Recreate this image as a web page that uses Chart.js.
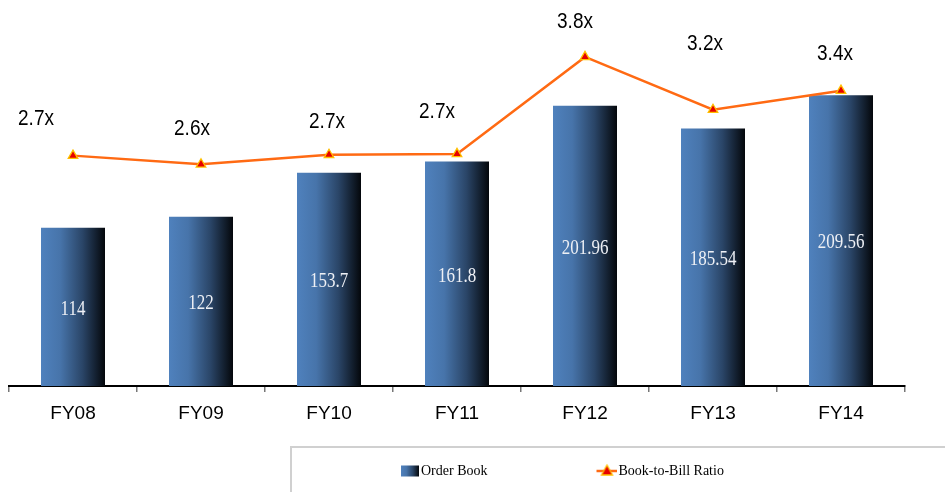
<!DOCTYPE html>
<html>
<head>
<meta charset="utf-8">
<script src="https://cdn.jsdelivr.net/npm/chart.js@4.4.1/dist/chart.umd.min.js"></script>
<style>
  html, body { margin: 0; padding: 0; background: #fff; }
</style>
</head>
<body>
<canvas id="chart" width="945" height="492"></canvas>
<script>
const years = ["FY08", "FY09", "FY10", "FY11", "FY12", "FY13", "FY14"];
const orderBook = [114, 122, 153.7, 161.8, 201.96, 185.54, 209.56];
const bookToBill = [2.66, 2.56, 2.67, 2.68, 3.80, 3.19, 3.41];

// where each "x.x" label sits relative to its point (hand placed in the source)
const ratioLabelOffsets = [[-37, -39], [-9, -37], [-2, -35], [-20, -44], [-10, -37], [-8, -68], [-6, -39]];

function fillBarGradient(g) {
  g.addColorStop(0, "#4f81bd");
  g.addColorStop(0.3, "#4774aa");
  g.addColorStop(0.65, "#2a4567");
  g.addColorStop(1, "#04070b");
  return g;
}

function barFill(ctx) {
  const chart = ctx.chart;
  const xs = chart.scales.x;
  if (!chart.chartArea || !xs || ctx.type !== "data") return "#4f81bd";
  const cx = xs.getPixelForValue(ctx.dataIndex);
  const half = xs.width / years.length / 4;
  return fillBarGradient(chart.ctx.createLinearGradient(cx - half, 0, cx + half, 0));
}

// legend markers, drawn at the right end of a wide transparent box
function barSwatch() {
  const cv = document.createElement("canvas");
  cv.width = 126; cv.height = 16;
  const c = cv.getContext("2d");
  c.fillStyle = fillBarGradient(c.createLinearGradient(107, 0, 125, 0));
  c.fillRect(107, 2.5, 18, 11);
  return cv;
}

function lineSwatch() {
  const cv = document.createElement("canvas");
  cv.width = 126; cv.height = 16;
  const c = cv.getContext("2d");
  c.strokeStyle = "#ff6a13";
  c.lineWidth = 2.5;
  c.beginPath(); c.moveTo(105, 8); c.lineTo(126, 8); c.stroke();
  c.beginPath(); c.moveTo(115.5, 2); c.lineTo(121, 12); c.lineTo(110, 12); c.closePath();
  c.fillStyle = "#e60000"; c.fill();
  c.strokeStyle = "#ffc000"; c.lineWidth = 1.3; c.stroke();
  return cv;
}

const labelPlugin = {
  id: "valueLabels",
  afterDatasetsDraw(chart) {
    const c = chart.ctx;
    c.save();
    c.textAlign = "center";
    c.textBaseline = "alphabetic";

    c.fillStyle = "#eef0f5";
    c.font = '17px "Liberation Serif"';
    chart.getDatasetMeta(0).data.forEach((bar, i) => {
      c.save();
      c.translate(bar.x, (bar.y + bar.base) / 2 + 1);
      c.scale(1, 1.22);
      c.fillText(String(orderBook[i]), 0, 0.33 * 17);
      c.restore();
    });

    c.fillStyle = "#000";
    c.font = '19px "Liberation Sans"';
    chart.getDatasetMeta(1).data.forEach((pt, i) => {
      const off = ratioLabelOffsets[i];
      c.save();
      c.translate(pt.x + off[0], pt.y + off[1]);
      c.scale(1, 1.2);
      c.fillText(bookToBill[i].toFixed(1) + "x", 0, 0.358 * 19);
      c.restore();
    });
    c.restore();
  }
};

const legendFrame = {
  id: "legendFrame",
  afterLayout(chart) {
    // legend sits in a framed box at the lower right
    chart.legend.left = 290;
    chart.legend.right = 945;
  },
  afterDraw(chart) {
    const c = chart.ctx;
    const top = chart.legend.top - 7;
    c.save();
    c.strokeStyle = "#d0d0d0";
    c.lineWidth = 2;
    c.beginPath();
    c.moveTo(291, 492); c.lineTo(291, top); c.lineTo(945, top);
    c.stroke();
    c.restore();
  }
};

new Chart(document.getElementById("chart"), {
  data: {
    labels: years,
    datasets: [
      {
        type: "bar",
        label: "Order Book",
        data: orderBook,
        yAxisID: "y",
        backgroundColor: barFill,
        barPercentage: 0.5,
        categoryPercentage: 1,
        order: 2
      },
      {
        type: "line",
        label: "Book-to-Bill Ratio",
        data: bookToBill,
        yAxisID: "y2",
        borderColor: "#ff6a13",
        borderWidth: 2.5,
        pointStyle: "triangle",
        pointRadius: 5.5,
        pointBackgroundColor: "#e60000",
        pointBorderColor: "#ffc000",
        pointBorderWidth: 1.3,
        tension: 0,
        order: 1
      }
    ]
  },
  options: {
    responsive: false,
    animation: false,
    layout: { padding: { left: 9, right: 40, top: 20, bottom: 4 } },
    scales: {
      x: {
        grid: { display: true, drawOnChartArea: false, drawTicks: true, tickLength: 6, color: "#777", lineWidth: 1.5, offset: true },
        border: { display: true, color: "#000", width: 2 },
        ticks: { color: "#000", font: { family: "Liberation Sans", size: 19 }, padding: 10 },
        afterFit(scale) { scale.height = 68; }
      },
      y: { display: false, min: 0, max: 263.7 },
      y2: { display: false, min: 0, max: 4.226, position: "right" }
    },
    plugins: {
      tooltip: { enabled: false },
      legend: {
        position: "bottom",
        align: "start",
        labels: {
          usePointStyle: true,
          pointStyleWidth: 114,
          padding: 10,
          color: "#000",
          font: { family: "Liberation Serif", size: 14 },
          generateLabels() {
            return [
              { text: "Order Book", pointStyle: barSwatch(), datasetIndex: 0, fontColor: "#000", lineWidth: 0, hidden: false },
              { text: "Book-to-Bill Ratio", pointStyle: lineSwatch(), datasetIndex: 1, fontColor: "#000", lineWidth: 0, hidden: false }
            ];
          }
        }
      }
    }
  },
  plugins: [labelPlugin, legendFrame]
});
</script>
</body>
</html>
